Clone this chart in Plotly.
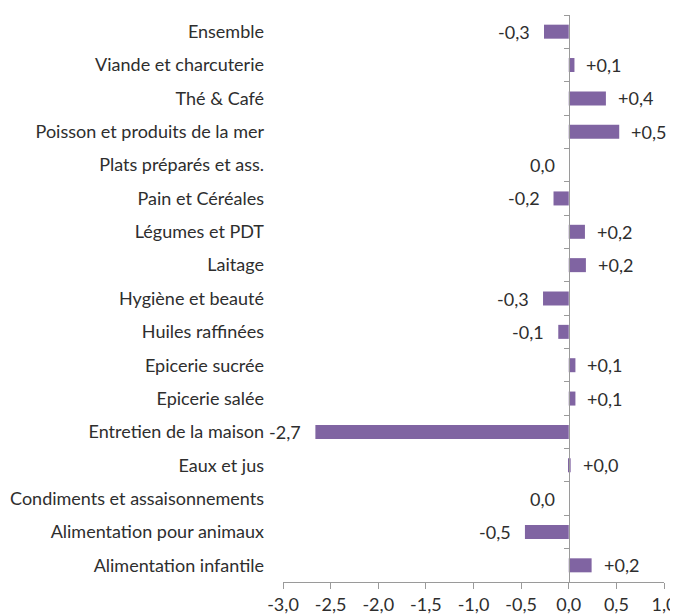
import plotly.graph_objects as go

categories = [
    "Ensemble", "Viande et charcuterie", "Thé & Café", "Poisson et produits de la mer",
    "Plats préparés et ass.", "Pain et Céréales", "Légumes et PDT", "Laitage",
    "Hygiène et beauté", "Huiles raffinées", "Epicerie sucrée", "Epicerie salée",
    "Entretien de la maison", "Eaux et jus", "Condiments et assaisonnements",
    "Alimentation pour animaux", "Alimentation infantile",
]
values = [-0.26, 0.06, 0.39, 0.53, 0.0, -0.16, 0.17, 0.18, -0.27, -0.11,
          0.07, 0.07, -2.66, 0.02, 0.0, -0.46, 0.24]
x_ticks = [-3.0, -2.5, -2.0, -1.5, -1.0, -0.5, 0.0, 0.5, 1.0]
x_tick_labels = ["-3,0", "-2,5", "-2,0", "-1,5", "-1,0", "-0,5", "0,0", "0,5", "1,0"]

FONT = "Lato"
FS = 18
TXT = "#2e2e2e"
AX = "#9a9a9a"


def fmt(v):
    s = f"{abs(v):.1f}".replace(".", ",")
    if v > 0:
        return "+" + s
    if v < 0 and round(v, 1) != 0:
        return "-" + s
    return s


n = len(categories)
fig = go.Figure()
fig.add_trace(go.Bar(
    x=values, y=categories, orientation="h",
    marker=dict(color="#8064A2", line=dict(width=0)),
    width=0.42, hoverinfo="skip",
))

for c, v in zip(categories, values):
    pos = v > 0
    fig.add_annotation(
        x=v, y=c, xref="x", yref="y", text=fmt(v), showarrow=False,
        xanchor="left" if pos else "right", xshift=10 if pos else -12,
        font=dict(family=FONT, size=FS, color=TXT),
    )

# dummy trace for secondary y axis (category boundary ticks on zero line)
fig.add_trace(go.Scatter(x=[None], y=[None], yaxis="y2", showlegend=False))

# page body has an 8px default margin -> figure is shrunk/shifted to compensate
fig.update_layout(
    width=670, height=606,
    margin=dict(l=275, r=14, t=7, b=32, autoexpand=False),
    paper_bgcolor="white", plot_bgcolor="white",
    showlegend=False,
    xaxis=dict(
        range=[-3.0, 1.0], tickvals=x_ticks, ticktext=x_tick_labels,
        showgrid=False, zeroline=False, automargin=False,
        showline=True, linecolor=AX, linewidth=1,
        ticks="outside", ticklen=6, tickcolor=AX,
        tickfont=dict(family=FONT, size=FS, color=TXT),
    ),
    yaxis=dict(
        categoryorder="array", categoryarray=categories,
        range=[n - 0.5, -0.5], automargin=False,
        showgrid=False, zeroline=False, showline=False, ticks="",
        ticklabelstandoff=18,
        tickfont=dict(family=FONT, size=FS, color=TXT),
    ),
    yaxis2=dict(
        overlaying="y", anchor="free", position=0.75,
        range=[n - 0.5, -0.5], automargin=False,
        tickvals=[i - 0.5 for i in range(n + 1)], ticktext=[""] * (n + 1),
        showgrid=False, zeroline=False,
        showline=True, linecolor=AX, linewidth=1,
        ticks="outside", ticklen=5, tickcolor=AX,
    ),
)

fig.write_html("out.html")
